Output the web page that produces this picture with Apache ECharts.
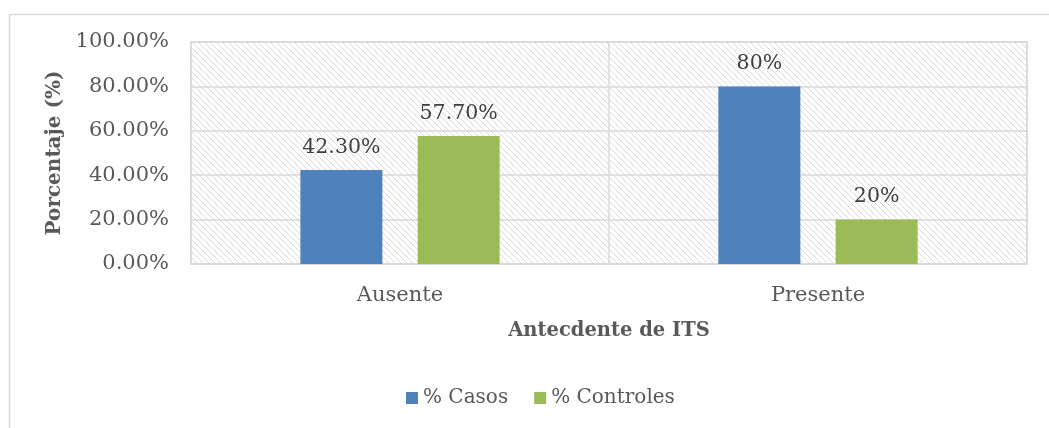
<!DOCTYPE html>
<html><head><meta charset="utf-8">
<script src="https://cdn.jsdelivr.net/npm/echarts@6/dist/echarts.min.js"></script>
<style>html,body{margin:0;padding:0;background:#fff}#c{width:1049px;height:428px}</style>
</head><body><div id="c"></div>
<script>
const categories = ['Ausente', 'Presente'];
const casos = [42.3, 80];
const controles = [57.7, 20];
const casosLabels = ['42.30%', '80%'];
const controlesLabels = ['57.70%', '20%'];
const seriesNames = ['% Casos', '% Controles'];
const seriesColors = ['#4F81BD', '#9BBB59'];

// hatch pattern
const tile = document.createElement('canvas');
tile.width = 6; tile.height = 6;
const tc = tile.getContext('2d');
tc.fillStyle = '#ffffff'; tc.fillRect(0,0,6,6);
tc.strokeStyle = '#dadada'; tc.lineWidth = 1;
tc.beginPath();
tc.moveTo(-1,-1); tc.lineTo(7,7);
tc.moveTo(-4,2); tc.lineTo(4,10);
tc.moveTo(2,-4); tc.lineTo(10,4);
tc.stroke();

const font = 'DejaVu Serif';
const chart = echarts.init(document.getElementById('c'));
chart.setOption({
  animation: false,
  textStyle: { fontFamily: font },
  graphic: [{
    type: 'rect', left: 7, top: 12, shape: { width: 1200, height: 600 },
    style: { fill: 'none', stroke: '#d9d9d9', lineWidth: 1.5 }, silent: true, z: -10
  }],
  grid: {
    left: 191, right: 22, top: 42, bottom: 164,
    show: true, backgroundColor: { image: tile, repeat: 'repeat' },
    borderColor: '#d9d9d9', borderWidth: 1.5
  },
  legend: {
    left: 401, top: 383, itemWidth: 12, itemHeight: 12, itemGap: 26,
    icon: 'rect',
    textStyle: { fontFamily: font, fontSize: 20, color: '#595959' },
    data: seriesNames
  },
  xAxis: {
    type: 'category', data: categories,
    name: 'Antecdente de ITS', nameLocation: 'middle', nameGap: 57,
    nameTextStyle: { fontFamily: font, fontSize: 19.5, fontWeight: 'bold', color: '#595959' },
    axisLine: { lineStyle: { color: '#d9d9d9', width: 1.5 } },
    axisTick: { show: false },
    axisLabel: { fontFamily: font, fontSize: 21, color: '#595959', margin: 21 },
    splitLine: { show: true, lineStyle: { color: '#d9d9d9', width: 1.5 } }
  },
  yAxis: {
    type: 'value', min: 0, max: 100, interval: 20,
    name: 'Porcentaje (%)', nameLocation: 'middle', nameGap: 122,
    nameTextStyle: { fontFamily: font, fontSize: 20, fontWeight: 'bold', color: '#595959' },
    axisLine: { show: false }, axisTick: { show: false },
    axisLabel: { fontFamily: font, fontSize: 21, color: '#595959', margin: 22,
      formatter: v => v.toFixed(2) + '%' },
    splitLine: { lineStyle: { color: '#d9d9d9', width: 1.5 } }
  },
  series: [
    { name: seriesNames[0], type: 'bar', data: casos, barWidth: 82, barGap: '43%',
      itemStyle: { color: seriesColors[0] },
      label: { show: true, position: 'top', distance: 12, fontFamily: font, fontSize: 20.5, color: '#404040',
        formatter: p => casosLabels[p.dataIndex] } },
    { name: seriesNames[1], type: 'bar', data: controles, barWidth: 82,
      itemStyle: { color: seriesColors[1] },
      label: { show: true, position: 'top', distance: 12, fontFamily: font, fontSize: 20.5, color: '#404040',
        formatter: p => controlesLabels[p.dataIndex] } }
  ]
});
</script></body></html>
